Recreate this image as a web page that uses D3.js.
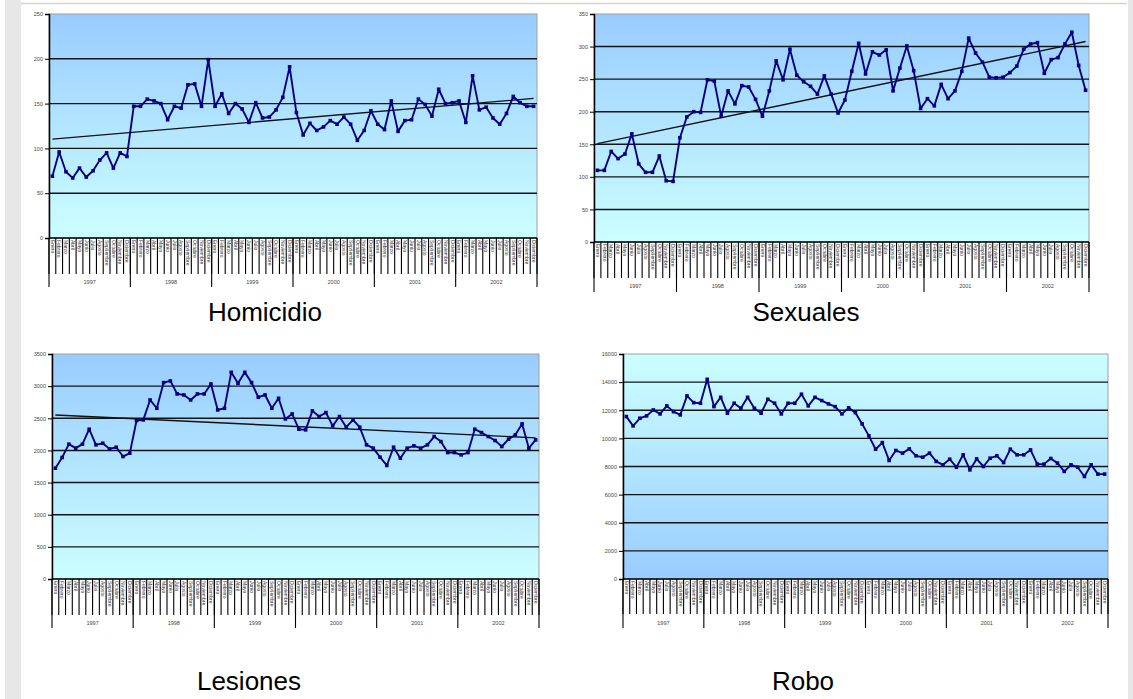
<!DOCTYPE html>
<html>
<head>
<meta charset="utf-8">
<script src="https://cdn.jsdelivr.net/npm/d3@7"></script>
<style>
  html, body { margin: 0; padding: 0; background: #ffffff; }
  svg { display: block; font-family: "Liberation Sans", Arial, sans-serif; }
</style>
</head>
<body>
<svg id="chart" width="1133" height="699"></svg>
<script>
// Monthly series, January 1997 – December 2002
const years = ["1997", "1998", "1999", "2000", "2001", "2002"];
const months = ["Enero", "Febrero", "Marzo", "Abril", "Mayo", "Junio", "Julio",
  "Agosto", "Septiembre", "Octubre", "Noviembre", "Diciembre"];

const homicidio = [69, 96, 74, 67, 78, 68, 75, 87, 95, 78, 95, 91,
  147, 147, 155, 153, 150, 132, 147, 145, 171, 172, 147, 199,
  147, 161, 139, 150, 144, 129, 151, 134, 135, 143, 157, 191,
  140, 115, 128, 120, 124, 131, 127, 135, 127, 109, 120, 142,
  127, 121, 153, 119, 131, 132, 155, 149, 136, 166, 150, 151,
  153, 129, 181, 143, 146, 134, 127, 139, 158, 151, 147, 147];

const sexuales = [110, 110, 139, 128, 135, 166, 120, 107, 107, 132, 94, 93,
  160, 192, 200, 199, 249, 247, 193, 232, 212, 240, 238, 219,
  193, 232, 278, 249, 296, 256, 246, 239, 227, 255, 227, 198,
  218, 262, 305, 258, 292, 287, 295, 232, 267, 301, 263, 205,
  220, 209, 242, 220, 232, 262, 313, 290, 276, 253, 252, 253,
  260, 270, 296, 304, 306, 259, 280, 283, 304, 322, 271, 233];

const lesiones = [1724, 1890, 2097, 2035, 2097, 2330, 2087, 2112, 2024, 2050, 1905, 1957,
  2464, 2475, 2785, 2656, 3055, 3081, 2879, 2863, 2785, 2879, 2879, 3034,
  2630, 2656, 3215, 3044, 3215, 3055, 2827, 2863, 2656, 2811, 2490, 2568,
  2330, 2320, 2615, 2527, 2589, 2382, 2527, 2361, 2475, 2361, 2087, 2035,
  1895, 1766, 2050, 1879, 2035, 2071, 2035, 2087, 2216, 2138, 1967, 1967,
  1931, 1967, 2330, 2278, 2216, 2154, 2061, 2175, 2242, 2413, 2035, 2164];

const robo = [11550, 10890, 11430, 11600, 12020, 11740, 12310, 11900, 11670, 13020, 12540, 12500,
  14200, 12260, 12920, 11790, 12500, 12140, 12920, 12140, 11790, 12780, 12500, 11740,
  12500, 12500, 13140, 12310, 12920, 12690, 12450, 12260, 11740, 12170, 11830, 11030,
  10180, 9230, 9700, 8430, 9140, 8950, 9250, 8760, 8660, 8950, 8360, 8120,
  8520, 7950, 8830, 7760, 8540, 8000, 8590, 8760, 8280, 9230, 8830, 8830,
  9180, 8170, 8170, 8570, 8240, 7650, 8120, 7950, 7290, 8120, 7460, 7460];

const yMaxima = { homicidio: 250, sexuales: 350, lesiones: 3500, robo: 16000 };
const ySteps = { homicidio: 50, sexuales: 50, lesiones: 500, robo: 2000 };

// One category per month, grouped by year
const categories = years.flatMap(y => months.map(m => ({ year: y, month: m, key: y + "-" + m })));

const svg = d3.select("#chart");
const defs = svg.append("defs");

// Page frame
svg.append("rect").attr("x", 5).attr("y", 0).attr("width", 16).attr("height", 699).attr("fill", "#e7e7e7");
svg.append("rect").attr("x", 1128).attr("y", 0).attr("width", 5).attr("height", 699).attr("fill", "#e7e7e7");
svg.append("line").attr("x1", 21).attr("x2", 1127).attr("y1", 3.5).attr("y2", 3.5)
  .attr("stroke", "#d8d4c8").attr("stroke-width", 1.5);

function drawPanel(p) {
  const g = svg.append("g");
  const x = d3.scaleBand().domain(categories.map(c => c.key)).range([p.left, p.right]);
  const y = d3.scaleLinear().domain([0, p.yMax]).range([p.bottom, p.top]);
  const bw = x.bandwidth();
  const cx = i => x(categories[i].key) + bw / 2;

  // Background gradient
  const gid = "grad-" + p.id;
  const grad = defs.append("linearGradient").attr("id", gid)
    .attr("x1", 0).attr("y1", 0).attr("x2", 0).attr("y2", 1);
  grad.append("stop").attr("offset", "0%").attr("stop-color", p.topColor);
  grad.append("stop").attr("offset", "100%").attr("stop-color", p.bottomColor);
  g.append("rect").attr("x", p.left).attr("y", p.top)
    .attr("width", p.right - p.left).attr("height", p.bottom - p.top)
    .attr("fill", `url(#${gid})`).attr("stroke", "#a0a0a0").attr("stroke-width", 1);

  // Horizontal gridlines
  const ticks = d3.range(0, p.yMax + 1, p.yStep);
  g.append("g").selectAll("line").data(ticks.filter(t => t > 0 && t < p.yMax)).join("line")
    .attr("x1", p.left).attr("x2", p.right)
    .attr("y1", d => y(d)).attr("y2", d => y(d))
    .attr("stroke", "#141414").attr("stroke-width", 1.4);

  // Y axis
  const yAxis = g.append("g").attr("transform", `translate(${p.left},0)`)
    .call(d3.axisLeft(y).tickValues(ticks).tickSize(4).tickPadding(2).tickFormat(d3.format("d")));
  yAxis.select(".domain").attr("stroke", "#000").attr("stroke-width", 1.5);
  yAxis.selectAll(".tick line").attr("stroke", "#000");
  yAxis.selectAll(".tick text").attr("font-size", 5.5).attr("fill", "#444")
    .attr("font-family", "'Liberation Sans', Arial, sans-serif");

  // X axis baseline
  g.append("line").attr("x1", p.left).attr("x2", p.right)
    .attr("y1", p.bottom).attr("y2", p.bottom).attr("stroke", "#000").attr("stroke-width", 1.3);

  // Month separators
  const edges = categories.map(c => x(c.key)).concat([p.right]);
  g.append("g").selectAll("line").data(edges).join("line")
    .attr("x1", d => d).attr("x2", d => d)
    .attr("y1", p.bottom).attr("y2", p.bottom + p.tickLen)
    .attr("stroke", "#000").attr("stroke-width", 1.1);

  // Year separators
  const yearEdges = years.map(yr => x(yr + "-" + months[0])).concat([p.right]);
  g.append("g").selectAll("line").data(yearEdges).join("line")
    .attr("x1", d => d).attr("x2", d => d)
    .attr("y1", p.bottom).attr("y2", p.bottom + p.yearLen)
    .attr("stroke", "#000").attr("stroke-width", 1.1);

  // Month labels (vertical)
  g.append("g").selectAll("text").data(categories).join("text")
    .attr("transform", c => `translate(${x(c.key) + bw / 2},${p.bottom + 2}) rotate(90)`)
    .attr("dy", "0.35em")
    .attr("font-size", 5).attr("fill", "#333")
    .text(c => c.month);

  // Year labels
  g.append("g").selectAll("text").data(years).join("text")
    .attr("x", yr => x(yr + "-" + months[0]) + bw * 6)
    .attr("y", p.bottom + p.yearLabel)
    .attr("text-anchor", "middle").attr("font-size", 5.5).attr("fill", "#444")
    .text(yr => yr);

  // Linear trend (least squares over the monthly values)
  if (p.trend) {
    const n = p.values.length;
    const mx = d3.mean(d3.range(n));
    const my = d3.mean(p.values);
    const sxy = d3.sum(p.values, (v, i) => (i - mx) * (v - my));
    const sxx = d3.sum(d3.range(n), i => (i - mx) * (i - mx));
    const slope = sxy / sxx;
    const icpt = my - slope * mx;
    g.append("line")
      .attr("x1", cx(0)).attr("y1", y(icpt))
      .attr("x2", cx(n - 1)).attr("y2", y(icpt + slope * (n - 1)))
      .attr("stroke", "#111").attr("stroke-width", 1.4);
  }

  // Series line and markers
  const line = d3.line().x((v, i) => cx(i)).y(v => y(v));
  g.append("path").datum(p.values).attr("d", line)
    .attr("fill", "none").attr("stroke", "#000080").attr("stroke-width", 1.9)
    .attr("stroke-linejoin", "round");
  g.append("g").selectAll("rect").data(p.values).join("rect")
    .attr("x", (v, i) => cx(i) - 1.8).attr("y", v => y(v) - 1.8)
    .attr("width", 3.6).attr("height", 3.6).attr("fill", "#000080");

  // Title
  svg.append("text").attr("x", p.titleX).attr("y", p.titleY)
    .attr("text-anchor", "middle").attr("font-size", 26).attr("fill", "#000")
    .text(p.title);
}

const blue = "#99ccff", cyan = "#ccffff";

drawPanel({ id: "hom", title: "Homicidio", values: homicidio, yMax: yMaxima.homicidio, yStep: ySteps.homicidio,
  left: 49, right: 537, top: 14, bottom: 238, tickLen: 36, yearLen: 49, yearLabel: 46,
  topColor: blue, bottomColor: cyan, trend: true, titleX: 265, titleY: 321 });

drawPanel({ id: "sex", title: "Sexuales", values: sexuales, yMax: yMaxima.sexuales, yStep: ySteps.sexuales,
  left: 594, right: 1089, top: 14, bottom: 242, tickLen: 36, yearLen: 50, yearLabel: 46,
  topColor: blue, bottomColor: cyan, trend: true, titleX: 806, titleY: 321 });

drawPanel({ id: "les", title: "Lesiones", values: lesiones, yMax: yMaxima.lesiones, yStep: ySteps.lesiones,
  left: 52, right: 539, top: 354, bottom: 579, tickLen: 36, yearLen: 49, yearLabel: 46,
  topColor: blue, bottomColor: cyan, trend: true, titleX: 249, titleY: 690 });

drawPanel({ id: "rob", title: "Robo", values: robo, yMax: yMaxima.robo, yStep: ySteps.robo,
  left: 623, right: 1108, top: 354, bottom: 579, tickLen: 35, yearLen: 49, yearLabel: 46,
  topColor: cyan, bottomColor: blue, trend: false, titleX: 803, titleY: 690 });
</script>
</body>
</html>
